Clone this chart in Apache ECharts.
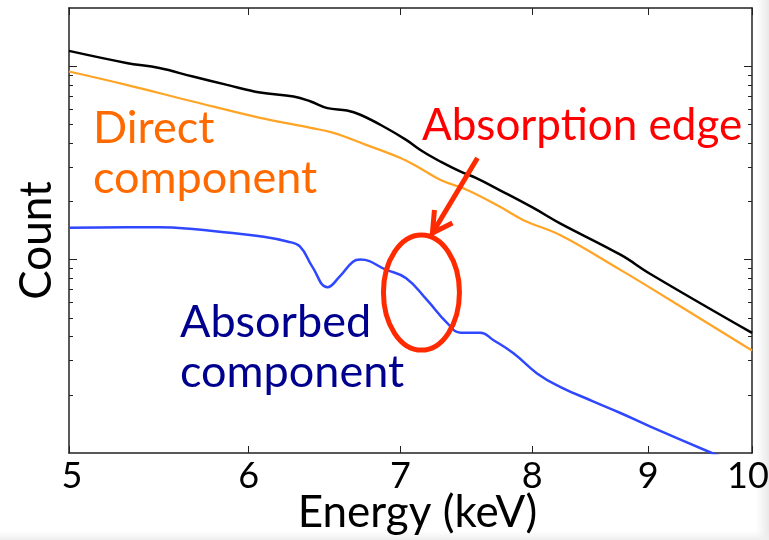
<!DOCTYPE html>
<html>
<head>
<meta charset="utf-8">
<script src="https://cdn.jsdelivr.net/npm/echarts@6/dist/echarts.min.js"></script>
<style>
  html, body { margin: 0; padding: 0; background: #fff; }
  #chart { width: 769px; height: 540px; }
</style>
</head>
<body>
<div id="chart"></div>
<script>
// Energy axis ticks (keV) and count-axis tick positions
const energyTicks = [5, 6, 7, 8, 9, 10];
const countMajorTicks = [10, 100];
const countMinorTicks = [2, 3, 4, 5, 6, 7, 8, 9, 20, 30, 40, 50, 60, 70, 80, 90];

// Total spectrum (black)
const energyTotal = [5.00, 5.30, 5.48, 5.67, 5.87, 6.07, 6.28, 6.39, 6.50, 6.63, 6.72, 6.88, 7.04, 7.16, 7.29, 7.44, 7.56, 7.74, 8.01, 8.23, 8.75, 9.02, 10.0];
const countTotal  = [120, 104, 97.8, 88.4, 80.1, 73.1, 69.7, 65.7, 60.7, 59.0, 56.1, 48.8, 41.6, 36.2, 32.1, 28.5, 26.4, 22.9, 18.5, 15.4, 10.6, 8.43, 4.18];

// Direct component (orange)
const energyDirect = [5.00, 5.30, 5.67, 6.07, 6.39, 6.54, 6.76, 7.00, 7.14, 7.29, 7.49, 7.74, 7.93, 8.23, 8.75, 9.02, 10.0];
const countDirect  = [93.9, 80.1, 65.7, 54.1, 48.0, 45.2, 39.2, 33.5, 29.7, 25.8, 22.9, 18.8, 16.0, 13.4, 8.85, 7.14, 3.39];

// Absorbed component (blue)
const energyAbsorbed = [5.00, 5.30, 5.48, 5.67, 5.87, 6.07, 6.24, 6.32, 6.40, 6.50, 6.58, 6.67, 6.72, 6.90, 7.04, 7.19, 7.34, 7.44, 7.59, 7.69, 7.85, 8.04, 8.23, 8.51, 8.75, 9.02, 9.60, 10.0];
const countAbsorbed  = [14.6, 14.7, 14.7, 14.4, 13.8, 13.2, 12.4, 11.7, 9.20, 7.20, 8.17, 9.76, 10.0, 8.85, 8.01, 6.19, 4.69, 4.19, 4.19, 3.84, 3.28, 2.58, 2.20, 1.85, 1.61, 1.37, 1.00, 0.82];

// Where the absorption edge is highlighted
const edgeEnergy = 7.15;
const edgeCount = 6.75;

const FONT = 'Lato';
const AXIS_COLOR = '#222';

function pairs(xs, ys) { return xs.map((x, i) => [x, ys[i]]); }

function energyAxis(position, showLabels) {
  return {
    type: 'log', logBase: 10, min: 5, max: 10, position: position,
    name: showLabels ? 'Energy (keV)' : '',
    nameLocation: 'middle', nameGap: 38, nameMoveOverlap: false,
    nameTextStyle: { fontFamily: FONT, fontSize: 44, color: '#000', padding: [0, 0, 0, 14] },
    axisLine: { show: true, onZero: false, lineStyle: { color: AXIS_COLOR, width: 1.5 } },
    axisTick: { show: true, inside: true, length: 7, customValues: energyTicks, lineStyle: { color: AXIS_COLOR, width: 1 } },
    axisLabel: {
      show: showLabels, customValues: energyTicks, margin: 5,
      fontFamily: FONT, fontSize: 36, color: '#000',
      formatter: v => {
        if (v === 10) return '{r|10}';
        if (v === 5) return '{l|5}';
        return String(v);
      },
      rich: {
        r: { fontFamily: FONT, fontSize: 36, color: '#000', padding: [0, 8, 0, 0] },
        l: { fontFamily: FONT, fontSize: 36, color: '#000', padding: [0, 0, 0, 6] }
      }
    },
    splitLine: { show: false }, minorTick: { show: false }
  };
}

function countAxis(position, ticks, len, withName, showLine) {
  return {
    type: 'log', logBase: 10, min: 1, max: 200, position: position,
    name: withName ? 'Count' : '',
    nameLocation: 'middle', nameGap: 10, nameRotate: 90, nameMoveOverlap: false,
    nameTextStyle: { fontFamily: FONT, fontSize: 44, color: '#000', padding: [0, 20, 0, 0] },
    axisLine: { show: showLine, onZero: false, lineStyle: { color: AXIS_COLOR, width: 1.5 } },
    axisTick: { show: true, inside: true, length: len, customValues: ticks, lineStyle: { color: AXIS_COLOR, width: 1 } },
    axisLabel: { show: false },
    splitLine: { show: false }, minorTick: { show: false }
  };
}

const chart = echarts.init(document.getElementById('chart'), null, { renderer: 'canvas' });

chart.setOption({
  backgroundColor: '#fff',
  animation: false,
  grid: { left: 69, right: 17, top: 8, bottom: 87, containLabel: false, outerBoundsMode: 'none' },
  xAxis: [energyAxis('bottom', true), energyAxis('top', false)],
  yAxis: [
    countAxis('left', countMajorTicks, 8, true, true),
    countAxis('right', countMajorTicks, 8, false, true),
    countAxis('left', countMinorTicks, 4, false, false),
    countAxis('right', countMinorTicks, 4, false, false)
  ],
  series: [
    { name: 'Total', type: 'line', data: pairs(energyTotal, countTotal), smooth: 0.4, showSymbol: false,
      lineStyle: { color: '#000', width: 2.5 }, z: 3 },
    { name: 'Direct component', type: 'line', data: pairs(energyDirect, countDirect), smooth: 0.4, showSymbol: false,
      lineStyle: { color: '#FFA424', width: 2.2 }, z: 2 },
    { name: 'Absorbed component', type: 'line', data: pairs(energyAbsorbed, countAbsorbed), smooth: 0.45, showSymbol: false,
      lineStyle: { color: '#2F48FF', width: 2.5 }, z: 2 }
  ]
});

// Annotations: component labels, highlighted edge and its arrow, page edge shading
const c = chart.convertToPixel({ gridIndex: 0 }, [edgeEnergy, edgeCount]);
const RED = '#FF2A00';
chart.setOption({
  graphic: [
    { type: 'rect', shape: { x: 756, y: 0, width: 13, height: 540 }, silent: true, z: -10,
      style: { fill: new echarts.graphic.LinearGradient(0, 0, 1, 0, [
        { offset: 0, color: 'rgba(235,235,235,0)' }, { offset: 1, color: 'rgba(232,232,232,1)' }]) } },
    { type: 'rect', shape: { x: 0, y: 531, width: 769, height: 9 }, silent: true, z: -10,
      style: { fill: new echarts.graphic.LinearGradient(0, 0, 0, 1, [
        { offset: 0, color: 'rgba(240,240,240,0)' }, { offset: 1, color: 'rgba(238,238,238,1)' }]) } },
    { type: 'text', left: 93, top: 106, style: { text: 'Direct', font: '45px ' + FONT, fill: '#FF6A00' } },
    { type: 'text', left: 93, top: 156, style: { text: 'component', font: '45px ' + FONT, fill: '#FF6A00' } },
    { type: 'text', left: 180, top: 300, style: { text: 'Absorbed', font: '45px ' + FONT, fill: '#00008F' } },
    { type: 'text', left: 180, top: 350, style: { text: 'component', font: '45px ' + FONT, fill: '#00008F' } },
    { type: 'text', left: 422, top: 104, style: { text: 'Absorption edge', font: '44px ' + FONT, fill: '#FF0000' } },
    { type: 'ellipse', shape: { cx: c[0], cy: c[1], rx: 38, ry: 57.5 },
      style: { fill: 'none', stroke: RED, lineWidth: 5 }, z: 10 },
    { type: 'polyline', shape: { points: [[c[0] + 56, c[1] - 134.7], [c[0] + 11, c[1] - 59.7]] },
      style: { stroke: RED, lineWidth: 5, fill: 'none' }, z: 10 },
    { type: 'polyline', shape: { points: [[c[0] + 13, c[1] - 82.7], [c[0] + 11, c[1] - 59.7], [c[0] + 31, c[1] - 69.7]] },
      style: { stroke: RED, lineWidth: 5, fill: 'none', lineJoin: 'miter' }, z: 10 }
  ]
});
</script>
</body>
</html>
